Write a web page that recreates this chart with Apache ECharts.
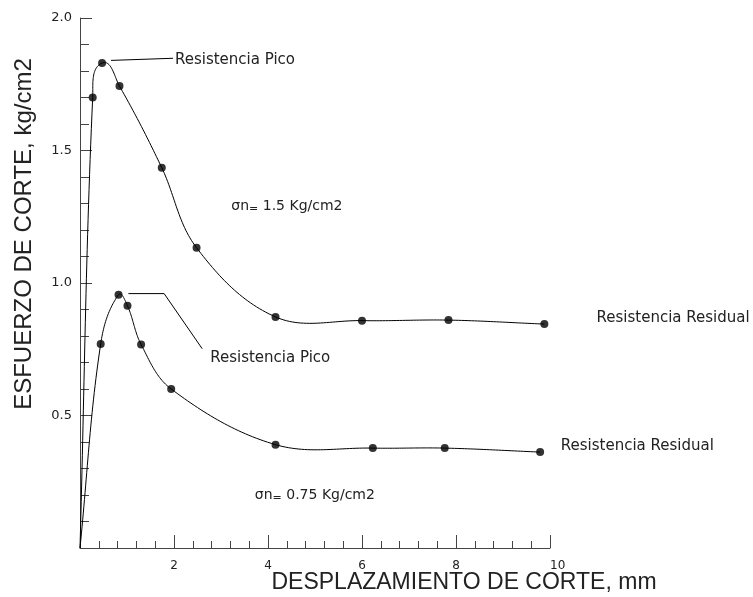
<!DOCTYPE html>
<html>
<head>
<meta charset="utf-8">
<script src="https://cdn.jsdelivr.net/npm/echarts@6/dist/echarts.min.js"></script>
<style>
  html, body { margin: 0; background: #fff; }
  #chart { width: 753px; height: 597px; }
</style>
</head>
<body>
<div id="chart"></div>
<script>
// sigma n = 1.5 kg/cm2
const upperX = [0, 0.27, 0.47, 0.84, 1.74, 2.48, 4.16, 6.0, 7.84, 9.88];
const upperY = [0, 1.70, 1.83, 1.743, 1.435, 1.133, 0.872, 0.858, 0.860, 0.845];
// sigma n = 0.75 kg/cm2
const lowerX = [0, 0.44, 0.82, 1.01, 1.30, 1.94, 4.16, 6.23, 7.76, 9.79];
const lowerY = [0, 0.770, 0.956, 0.914, 0.768, 0.600, 0.390, 0.377, 0.377, 0.362];

const xTicks = [0, 2, 4, 6, 8, 10];
const yTicks = [0, 0.5, 1.0, 1.5, 2.0];

// annotation anchors (data units)
const notes = [
    { text: 'Resistencia Pico', at: [2.02, 1.84] },
    { text: 'Resistencia Pico', at: [2.77, 0.717] },
    { text: 'Resistencia Residual', at: [10.99, 0.866] },
    { text: 'Resistencia Residual', at: [10.23, 0.383] }
];
const sigmaNotes = [
    { value: '1.5', at: [3.22, 1.289] },
    { value: '0.75', at: [3.72, 0.198] }
];
const leaders = [
    [[0.66, 1.84], [1.98, 1.848]],
    [[1.03, 0.96], [1.79, 0.96], [2.60, 0.752]]
];

/**
 * Smooth curve through pixel points: bezier handles along the neighbour
 * direction, each handle scaled by the length of its own segment
 */
function smoothPath(pts, tension, steps) {
    const n = pts.length;
    const dist = (a, b) => Math.hypot(b[0] - a[0], b[1] - a[1]);
    const dirs = pts.map((p, i) => {
        const a = pts[Math.max(i - 1, 0)];
        const b = pts[Math.min(i + 1, n - 1)];
        const len = dist(a, b) || 1;
        return [(b[0] - a[0]) / len, (b[1] - a[1]) / len];
    });
    const out = [pts[0]];
    for (let i = 0; i < n - 1; i++) {
        const p0 = pts[i], p3 = pts[i + 1];
        const L = dist(p0, p3) * tension;
        const p1 = [p0[0] + dirs[i][0] * L, p0[1] + dirs[i][1] * L];
        const p2 = [p3[0] - dirs[i + 1][0] * L, p3[1] - dirs[i + 1][1] * L];
        for (let k = 1; k <= steps; k++) {
            const u = k / steps, v = 1 - u;
            const b0 = v * v * v, b1 = 3 * v * v * u, b2 = 3 * v * u * u, b3 = u * u * u;
            out.push([
                b0 * p0[0] + b1 * p1[0] + b2 * p2[0] + b3 * p3[0],
                b0 * p0[1] + b1 * p1[1] + b2 * p2[1] + b3 * p3[1]
            ]);
        }
    }
    return out;
}

const curveSeries = (xs, ys) => ({
    type: 'custom',
    clip: false,
    silent: true,
    data: xs.map((x, i) => [x, ys[i]]),
    encode: { x: 0, y: 1 },
    renderItem: (params, api) => {
        if (params.dataIndex !== 0) return null;
        const pts = xs.map((x, i) => api.coord([x, ys[i]]));
        return {
            type: 'polyline',
            shape: { points: smoothPath(pts, 0.35, 30) },
            style: { stroke: '#000', lineWidth: 1, fill: null }
        };
    }
});

// dots: every measured point except the origin
const dotSeries = (xs, ys) => ({
    type: 'scatter',
    symbol: 'circle',
    symbolSize: 8,
    itemStyle: { color: '#000' },
    data: xs.map((x, i) => [x, ys[i]]).filter(p => !(p[0] === 0 && p[1] === 0))
});

const chart = echarts.init(document.getElementById('chart'));
const axisColor = '#444';
const textColor = '#222';

chart.setOption({
    animation: false,
    grid: { left: 80, right: 203, top: 18, bottom: 49 },
    xAxis: {
        type: 'value',
        min: xTicks[0], max: xTicks[xTicks.length - 1], interval: 2,
        axisLine: { lineStyle: { color: axisColor, width: 1 } },
        axisTick: { inside: true, length: 13, lineStyle: { color: axisColor } },
        minorTick: { show: true, splitNumber: 5, length: 7, lineStyle: { color: axisColor } },
        splitLine: { show: false },
        axisLabel: {
            margin: 12, color: textColor, fontSize: 12, fontFamily: 'DejaVu Sans',
            alignMaxLabel: 'left',
            formatter: v => v === 0 ? '' : String(v)
        }
    },
    yAxis: {
        type: 'value',
        min: yTicks[0], max: yTicks[yTicks.length - 1], interval: 0.5,
        axisLine: { show: true, lineStyle: { color: axisColor, width: 1 } },
        axisTick: { show: true, inside: true, length: 12, lineStyle: { color: axisColor } },
        minorTick: { show: true, splitNumber: 5, length: 9, lineStyle: { color: axisColor } },
        splitLine: { show: false },
        axisLabel: {
            margin: 8, color: textColor, fontSize: 13, fontFamily: 'DejaVu Sans',
            formatter: v => v === 0 ? '' : v.toFixed(1)
        }
    },
    series: [
        curveSeries(upperX, upperY),
        curveSeries(lowerX, lowerY),
        dotSeries(upperX, upperY),
        dotSeries(lowerX, lowerY)
    ]
});

const px = p => chart.convertToPixel({ gridIndex: 0 }, p);
const graphics = [];

leaders.forEach(pts => {
    graphics.push({
        type: 'polyline',
        shape: { points: pts.map(px) },
        style: { stroke: '#000', lineWidth: 1, fill: null }
    });
});

notes.forEach(n => {
    const [x, y] = px(n.at);
    graphics.push({
        type: 'text', x: x, y: y,
        style: { text: n.text, fill: textColor, font: '15px "DejaVu Sans"', align: 'left', verticalAlign: 'middle' }
    });
});

sigmaNotes.forEach(n => {
    const [x, y] = px(n.at);
    graphics.push({
        type: 'text', x: x, y: y,
        style: {
            text: '{a|σn}{b|=}{a| ' + n.value + ' Kg/cm2}',
            align: 'left', verticalAlign: 'middle',
            rich: {
                a: { fill: textColor, font: '14px "DejaVu Sans"' },
                b: { fill: textColor, font: '11px "DejaVu Sans"', padding: [6, 0, 0, 0] }
            }
        }
    });
});

graphics.push({
    type: 'text', x: 464, y: 583,
    style: { text: 'DESPLAZAMIENTO DE CORTE, mm', fill: textColor, font: '23px "Liberation Sans"', align: 'center', verticalAlign: 'middle' }
});
graphics.push({
    type: 'text', x: 24, y: 234, rotation: Math.PI / 2,
    style: { text: 'ESFUERZO DE CORTE, kg/cm2', fill: textColor, font: '24px "Liberation Sans"', align: 'center', verticalAlign: 'middle' }
});

chart.setOption({ graphic: graphics });
</script>
</body>
</html>
